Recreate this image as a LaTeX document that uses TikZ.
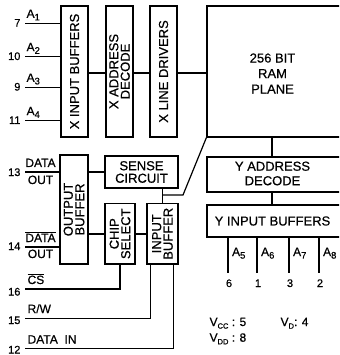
\documentclass[tikz,border=0pt]{standalone}
\usepackage{fontspec}
\setmainfont{Liberation Sans}[UprightFeatures={FakeBold=0.6}]
\newcommand\mysub[2][9.5]{\raisebox{-2.6pt}{\fontsize{#1}{#1}\selectfont #2}}
\begin{document}
\begin{tikzpicture}[x=1pt,y=-1pt,line width=1.2pt,
  box/.style={draw,inner sep=0pt},
  btext/.style={font=\fontsize{13}{11.5}\selectfont,align=center,inner sep=0pt},
  lbl/.style={font=\fontsize{12}{12}\selectfont,inner sep=0pt},
  pin/.style={font=\fontsize{11}{11}\selectfont,inner sep=0pt}]
\useasboundingbox (0,0) rectangle (339,355);
\clip (0,0) rectangle (339,355);
% boxes
\node[box,minimum width=27pt,minimum height=131pt] (xib) at (74.5,71.5) {};
\node[btext,rotate=90] at (xib.center) {X INPUT BUFFERS};
\node[box,minimum width=27pt,minimum height=131pt] (xad) at (119.5,71.5) {};
\node[btext,rotate=90] at (xad.center) {X ADDRESS\\DECODE};
\node[box,minimum width=27pt,minimum height=131pt] (xld) at (163.5,71.5) {};
\node[btext,rotate=90] at (xld.center) {X LINE DRIVERS};
\node[box,minimum width=138pt,minimum height=131pt] (ram) at (276,71.5) {};
\node[btext,font=\fontsize{13}{15.5}\selectfont] at (272.5,73.5) {256 BIT\\RAM\\PLANE};
\node[box,minimum width=138pt,minimum height=35pt] (ydec) at (276,174.5) {};
\node[btext,font=\fontsize{13}{14.5}\selectfont] at (272.5,173.5) {Y ADDRESS\\DECODE};
\node[box,minimum width=138pt,minimum height=32pt] (yib) at (276,221) {};
\node[btext] at (272.5,221) {Y INPUT BUFFERS};
\node[box,minimum width=28pt,minimum height=109pt] (obuf) at (74,209.5) {};
\node[btext,rotate=90] at (obuf.center) {OUTPUT\\BUFFER};
\node[box,minimum width=73pt,minimum height=32pt] (sense) at (141.5,172) {};
\node[btext,font=\fontsize{13}{12.5}\selectfont] at (sense.center) {SENSE\\CIRCUIT};
\node[box,minimum width=30pt,minimum height=60.5pt] (csel) at (120,233.75) {};
\node[btext,rotate=90] at (csel.center) {CHIP\\SELECT};
\node[box,minimum width=31pt,minimum height=60.5pt] (ibuf) at (162.5,233.75) {};
\node[btext,rotate=90] at (ibuf.center) {INPUT\\BUFFER};
% internal connectors
\draw (xib.east |- 0,73) -- (xad.west |- 0,73);
\draw (xad.east |- 0,73) -- (xld.west |- 0,73);
\draw (xld.east |- 0,73) -- (ram.west |- 0,73);
\draw (obuf.east |- sense.west) -- (sense.west);
\draw (obuf.east |- 0,234) -- (csel.west |- 0,234);
\draw (csel.east |- 0,234) -- (ibuf.west |- 0,234);
\draw (ibuf.north) -- (ibuf.north |- sense.south);
\draw (ram.south west) -- (183,195) -- (ibuf.north |- 0,195);
\draw (ram.south -| 272,0) -- (ydec.north -| 272,0);
\draw (ydec.south -| 272,0) -- (yib.north -| 272,0);
% X address inputs
\foreach \n/\y/\p in {1/23.3/7,2/56.7/10,3/87.3/9,4/120.7/11}{
  \coordinate (pa\n) at (25,\y);
  \draw (pa\n) -- (pa\n -| xib.west);
  \node[lbl,anchor=base west] at (26,\y-5.5) {A\mysub{\n}};
  \node[pin,anchor=base east] at (21,\y+3.3) {\p};
}
% data out
\coordinate (pdo) at (25,172);
\draw (pdo) -- (pdo -| obuf.west);
\node[lbl,anchor=base] at (40.5,167) {DATA};
\node[lbl,anchor=base] at (40.5,184) {OUT};
\node[pin,anchor=base east] at (21,176) {13};
\coordinate (pdob) at (25,247);
\draw (pdob) -- (pdob -| obuf.west);
\node[lbl,anchor=base] at (40.5,242) {$\overline{\mbox{DATA}}$};
\node[lbl,anchor=base] at (40.5,258) {OUT};
\node[pin,anchor=base east] at (21,250) {14};
% CS, R/W, DATA IN
\coordinate (pcs) at (25,289);
\draw (csel.south) |- (pcs);
\node[lbl,anchor=base west] at (27,284) {$\overline{\mbox{CS}}$};
\node[pin,anchor=base east] at (21,295.5) {16};
\coordinate (prw) at (25,318.3);
\draw ([xshift=4pt]ibuf.south west) |- (prw);
\node[lbl,anchor=base west] at (27,313) {R/W};
\node[pin,anchor=base east] at (21,324) {15};
\coordinate (pdi) at (25,348.3);
\draw ([xshift=-5pt]ibuf.south east) |- (pdi);
\node[lbl,anchor=base west] at (27,343.5) {DATA\ \ IN};
\node[pin,anchor=base east] at (21,353.5) {12};
% Y address inputs
\foreach \n/\x/\p in {5/228/6,6/257/1,7/289/3,8/319/2}{
  \coordinate (pa\n) at (\x,273);
  \draw (yib.south -| pa\n) -- (pa\n);
  \node[lbl,anchor=base west] at (\x+3.5,256) {A\mysub{\n}};
  \node[pin,anchor=base] at (\x+1,287) {\p};
}
% supply pins
\node[lbl,anchor=base west] at (209,326) {V\mysub[7.5]{CC} : 5};
\node[lbl,anchor=base west] at (280,326) {V\mysub[7.5]{D}: 4};
\node[lbl,anchor=base west] at (209,341.7) {V\mysub[7.5]{DD} : 8};
\end{tikzpicture}
\end{document}
